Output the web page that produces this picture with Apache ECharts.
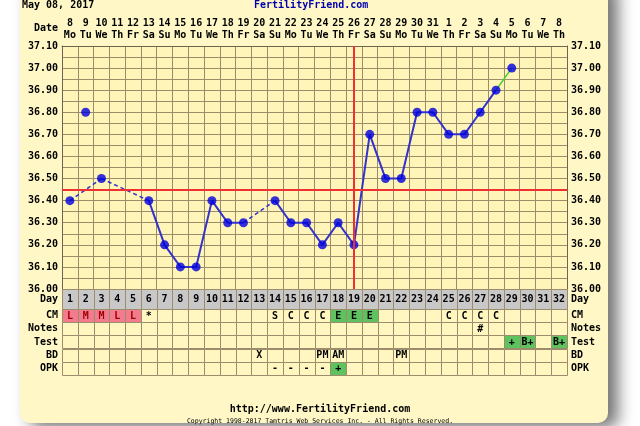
<!DOCTYPE html>
<html>
<head>
<meta charset="utf-8">
<style>
  html, body { margin: 0; padding: 0; background: #fff; }
  #wrap { position: relative; width: 640px; height: 426px; overflow: hidden; }
  #card { position: absolute; left: 20px; top: -20px; width: 588px; height: 443px; background: #FFF8C6;
          border-radius: 10px; box-shadow: 10px 5px 16px rgba(0,0,0,0.55); }
  #chart { position: absolute; left: 0; top: 0; width: 640px; height: 426px; }
</style>
<script src="https://cdn.jsdelivr.net/npm/echarts@6/dist/echarts.min.js"></script>
</head>
<body>
<div id="wrap"><div id="card"></div><div id="chart"></div></div>
<script>
// cycle data
const dayNums = ['1','2','3','4','5','6','7','8','9','10','11','12','13','14','15','16',
  '17','18','19','20','21','22','23','24','25','26','27','28','29','30','31','32']
const dates = ['8','9','10','11','12','13','14','15','16','17','18','19','20','21','22','23',
  '24','25','26','27','28','29','30','31','1','2','3','4','5','6','7','8']
const weekdays = ['Mo','Tu','We','Th','Fr','Sa','Su','Mo','Tu','We','Th','Fr','Sa','Su','Mo','Tu',
  'We','Th','Fr','Sa','Su','Mo','Tu','We','Th','Fr','Sa','Su','Mo','Tu','We','Th']
const temps = [36.40, 36.80, 36.50, null, null, 36.40, 36.20, 36.10, 36.10, 36.40, 36.30, 36.30, null,
  36.40, 36.30, 36.30, 36.20, 36.30, 36.20, 36.70, 36.50, 36.50, 36.80, 36.80, 36.70, 36.70,
  36.80, 36.90, 37.00, null, null, null]
const discardedDays = [2]
const lastSegmentFrom = 28 // green segment
const coverline = 36.45
const ovulationDay = 19

const rowNames = ['CM', 'Notes', 'Test', 'BD', 'OPK']
const cm = ['L','M','M','L','L','*','','','','','','','','S','C','C','C','E','E','E','','','','','C','C','C','C','','','','']
const notes = ['','','','','','','','','','','','','','','','','','','','','','','','','','','#','','','','','']
const test = ['','','','','','','','','','','','','','','','','','','','','','','','','','','','','+','B+','','B+']
const bd = ['','','','','','','','','','','','','X','','','','PM','AM','','','','PM','','','','','','','','','','']
const opk = ['','','','','','','','','','','','','','-','-','-','-','+','','','','','','','','','','','','','','']
const rows = [cm, notes, test, bd, opk]

const FONT = 'DejaVu Sans Mono'
const GRID_LINE = '#9C8C6C'
const BLUE = '#3333CC'

function cellFill(row, text) {
  if (row === 0 && (text === 'L' || text === 'M' || text === 'H')) return '#F27C8E'
  if (row === 0 && text === 'E') return '#5EC25E'
  if (row === 2 && text) return '#5EC25E'
  if (row === 4 && text === '+') return '#5EC25E'
  return '#FFF6C0'
}

// build line segments between recorded temps
const pts = []
temps.forEach((t, i) => { if (t != null && !discardedDays.includes(i + 1)) pts.push(i) })
const solid = temps.map(() => null)
const green = temps.map(() => null)
const dashedSegs = []
for (let k = 0; k < pts.length - 1; k++) {
  const a = pts[k], b = pts[k + 1]
  if (a + 1 === lastSegmentFrom) {
    green[a] = temps[a]; green[b] = temps[b]
  } else if (b - a === 1) {
    solid[a] = temps[a]; solid[b] = temps[b]
  } else {
    const seg = temps.map(() => null)
    seg[a] = temps[a]; seg[b] = temps[b]
    dashedSegs.push(seg)
  }
}

function renderCell(getText, getFill, getColor) {
  return function (params, api) {
    const x = api.value(0), y = api.value(1)
    const c = api.coord([x, y])
    const s = api.size([1, 1])
    const text = getText(x, y)
    return {
      type: 'group',
      children: [
        { type: 'rect', shape: { x: Math.round(c[0] - s[0] / 2) + 0.5, y: Math.round(c[1] - s[1] / 2) + 0.5, width: Math.round(s[0]), height: Math.round(s[1]) },
          style: { fill: getFill(x, y, text), stroke: GRID_LINE, lineWidth: 1 } },
        { type: 'text', x: c[0], y: c[1] + 0.5,
          style: { text: text, font: 'bold 10px ' + FONT, fill: getColor(x, y, text), align: 'center', verticalAlign: 'middle' } }
      ]
    }
  }
}

const dayCells = dayNums.map((d, i) => [i, 0])
const tableCells = []
rows.forEach((r, ri) => r.forEach((v, i) => tableCells.push([i, ri])))

const catLabel = { fontFamily: FONT, fontWeight: 'bold', fontSize: 10, color: '#000', margin: 4 }

const chart = echarts.init(document.getElementById('chart'), null, { renderer: 'canvas' })

const lineBase = { type: 'line', xAxisIndex: 0, yAxisIndex: 0, symbol: 'none', silent: true, z: 3 }

chart.setOption({
  backgroundColor: 'transparent',
  animation: false,
  grid: [
    { left: 62, right: 73, top: 46, height: 243, show: true, backgroundColor: '#FFF5B8', borderWidth: 0 },
    { left: 62, right: 73, top: 289, height: 20 },
    { left: 62, right: 73, top: 309, height: 66 }
  ],
  xAxis: [
    { gridIndex: 0, type: 'category', data: dayNums, position: 'top', boundaryGap: true,
      axisLine: { lineStyle: { color: '#6E6450' } }, axisTick: { show: false },
      axisLabel: { interval: 0, fontFamily: FONT, fontWeight: 'bold', fontSize: 10, color: '#000', lineHeight: 12, margin: 5,
        formatter: (v, i) => dates[i] + '\n' + weekdays[i] },
      splitLine: { show: true, interval: 0, lineStyle: { color: GRID_LINE, width: 1 } } },
    { gridIndex: 1, type: 'category', data: dayNums, show: false },
    { gridIndex: 2, type: 'category', data: dayNums, show: false }
  ],
  yAxis: [
    { gridIndex: 0, type: 'value', min: 36, max: 37.1, interval: 0.05, position: 'left',
      axisLine: { show: true, lineStyle: { color: '#6E6450' } }, axisTick: { show: false },
      axisLabel: Object.assign({}, catLabel, { formatter: v => Math.round(v * 100) % 10 === 0 ? v.toFixed(2) : '' }),
      splitLine: { show: true, lineStyle: { color: GRID_LINE, width: 1 } } },
    { gridIndex: 0, type: 'value', min: 36, max: 37.1, interval: 0.05, position: 'right',
      axisLine: { show: true, lineStyle: { color: '#6E6450' } }, axisTick: { show: false },
      axisLabel: Object.assign({}, catLabel, { formatter: v => Math.round(v * 100) % 10 === 0 ? v.toFixed(2) : '' }),
      splitLine: { show: false } },
    { gridIndex: 1, type: 'category', data: ['Day'], position: 'left', axisLine: { show: false }, axisTick: { show: false }, axisLabel: catLabel },
    { gridIndex: 1, type: 'category', data: ['Day'], position: 'right', axisLine: { show: false }, axisTick: { show: false }, axisLabel: catLabel },
    { gridIndex: 2, type: 'category', data: rowNames, inverse: true, position: 'left', axisLine: { show: false }, axisTick: { show: false }, axisLabel: catLabel },
    { gridIndex: 2, type: 'category', data: rowNames, inverse: true, position: 'right', axisLine: { show: false }, axisTick: { show: false }, axisLabel: catLabel }
  ],
  graphic: [
    { type: 'text', left: 22, top: 0, style: { text: 'May 08, 2017', font: 'bold 10px ' + FONT, fill: '#000' } },
    { type: 'text', left: 254, top: 0, style: { text: 'FertilityFriend.com', font: 'bold 10px ' + FONT, fill: '#0000B0' } },
    { type: 'text', right: 582, top: 23, style: { text: 'Date', font: 'bold 10px ' + FONT, fill: '#000' } },
    { type: 'text', left: 'center', top: 404, style: { text: 'http://www.FertilityFriend.com', font: 'bold 10px ' + FONT, fill: '#000' } },
    { type: 'text', left: 'center', top: 418, style: { text: 'Copyright 1998-2017 Tamtris Web Services Inc. - All Rights Reserved.', font: '6.5px ' + FONT, fill: '#000' } }
  ],
  series: [
    { type: 'line', xAxisIndex: 0, yAxisIndex: 0, data: temps.map(() => null), z: 2, silent: true,
      markLine: { silent: true, symbol: 'none', label: { show: false },
        lineStyle: { color: '#EE3030', width: 2, type: 'solid' },
        data: [{ yAxis: coverline }, { xAxis: ovulationDay - 1 }] } },
    Object.assign({}, lineBase, { data: solid, lineStyle: { color: BLUE, width: 2 } }),
    Object.assign({}, lineBase, { data: green, lineStyle: { color: '#44CC33', width: 1.5 } }),
    ...dashedSegs.map(seg => Object.assign({}, lineBase, { data: seg, connectNulls: true,
      lineStyle: { color: BLUE, width: 1.5, type: [4, 3] } })),
    { type: 'scatter', xAxisIndex: 0, yAxisIndex: 0, data: temps, symbol: 'circle', symbolSize: 9,
      itemStyle: { color: '#0000DD' }, z: 4, silent: true },
    { type: 'custom', xAxisIndex: 1, yAxisIndex: 2, data: dayCells, silent: true,
      renderItem: renderCell((x) => dayNums[x], () => '#C8C8C8', () => '#000') },
    { type: 'custom', xAxisIndex: 2, yAxisIndex: 4, data: tableCells, silent: true,
      renderItem: renderCell((x, y) => rows[y][x], (x, y, t) => cellFill(y, t),
        (x, y, t) => cellFill(y, t) === '#F27C8E' ? '#A00000' : '#000') }
  ]
})
</script>
</body>
</html>
